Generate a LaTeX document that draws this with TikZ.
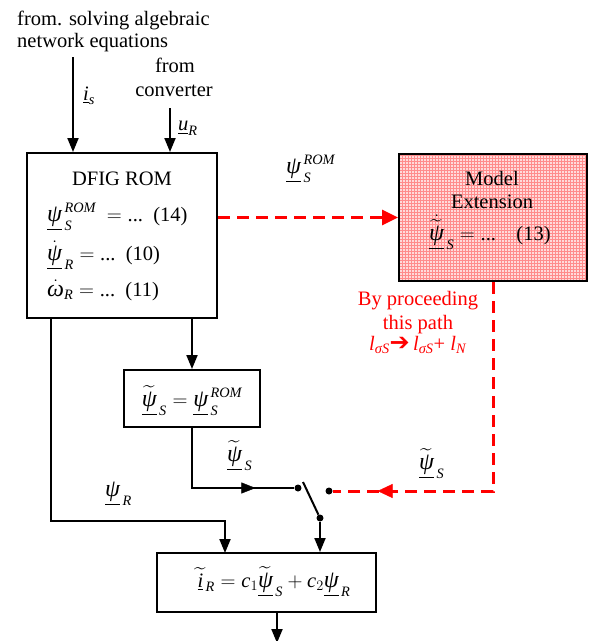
\documentclass[tikz,border=0pt]{standalone}
\usepackage{amsmath}
\usepackage{fontspec}
\setmainfont{Liberation Serif}
\newfontfamily\dejavu{DejaVu Sans}
\usetikzlibrary{arrows.meta,patterns,decorations.markings}
\newcommand{\ti}[1]{\text{\itshape #1}}
\newcommand{\gk}[1]{\text{\fontsize{24}{24}\selectfont\itshape #1}}
\newcommand{\upsi}{\underline{\gk{ψ}}}
\newcommand{\tpsi}{\widetilde{\underline{\gk{ψ}}}}
\newcommand{\lsub}[1]{\textit{l}\textsubscript{\textit{#1}}}
\newcommand{\etc}{\text{...}}
\begin{document}
\begin{tikzpicture}[x=1pt,y=-1pt,
  every node/.style={font=\fontsize{20.5}{23}\selectfont, inner sep=0pt},
  box/.style={draw, line width=2pt, inner sep=0pt},
  conn/.style={line width=2pt, -{Triangle[width=11pt,length=14pt]}},
  blk/.style={line width=2pt},
  reddash/.style={draw=red, line width=3pt, dash pattern=on 12pt off 7pt},
  redarr/.style={reddash, -{Triangle[width=15pt,length=16pt]}},
  dot/.style={circle, fill=black, inner sep=0pt, minimum size=7pt},
  redtxt/.style={text=red}]
\useasboundingbox (0,0) rectangle (594,641);

% boxes
\node[box, minimum width=190pt, minimum height=165pt] (rom) at (122,235.5) {};
\node[box, minimum width=188pt, minimum height=127pt,
      preaction={fill=red!14}, pattern=grid, pattern color=red!45] (ext) at (493,217.5) {};
\node[box, minimum width=136pt, minimum height=57pt] (b2) at (192,398.5) {};
\node[box, minimum width=219pt, minimum height=59pt] (b3) at (266.5,582.5) {};

% box contents
\node[anchor=base] (romT) at (122,185) {DFIG ROM};
\node[anchor=base west] (romE1) at (47,221) {$\upsi^{\,\ti{ROM}}_{\,\ti{S}}\ = \etc$\ \ (14)};
\node[anchor=base west] (romE2) at (47,260) {$\dot{\upsi}_{\,\ti{R}} = \etc$\ \ (10)};
\node[anchor=base west] (romE3) at (47,296) {$\dot{\gk{ω}}_{\ti{R}} = \etc$\ \ (11)};

\node[anchor=base] (extT1) at (492,185) {Model};
\node[anchor=base] (extT2) at (492,208) {Extension};
\node[anchor=base west] (extE) at (429,240) {$\dot{\tpsi}_{\,\ti{S}} = \etc$\ \ \ \ (13)};

\node[anchor=base] (b2E) at (192,406) {$\tpsi_{\,\ti{S}} = \upsi^{\,\ti{ROM}}_{\,\ti{S}}$};
\node[anchor=base] (b3E) at (274,587) {$\widetilde{\underline{\ti{i}}}_{\,\ti{R}} = \ti{c}_{1}\tpsi_{\,\ti{S}} + \ti{c}_{2}\upsi_{\,\ti{R}}$};

% outside texts
\node[anchor=base west] (fromA) at (17,25) {from. solving algebraic};
\node[anchor=base west] (fromB) at (17,47) {network equations};
\node[anchor=base] (convA) at (175,72) {from};
\node[anchor=base] (convB) at (174,96) {converter};
\node[anchor=base west] (lblIs) at (83,100) {$\underline{\ti{i}}_{\ti{s}}$};
\node[anchor=base west] (lblUr) at (178,130) {$\underline{\ti{u}}_{\ti{R}}$};
\node[anchor=base west] (lblPsiRom) at (286,173) {$\upsi^{\,\ti{ROM}}_{\,\ti{S}}$};
\node[anchor=base west] (lblPsiT1) at (227,461) {$\tpsi_{\,\ti{S}}$};
\node[anchor=base west] (lblPsiT2) at (419,469) {$\tpsi_{\,\ti{S}}$};
\node[anchor=base west] (lblPsiR) at (105,496) {$\upsi_{\,\ti{R}}$};

\node[anchor=base, redtxt] (redA) at (418,305) {By proceeding};
\node[anchor=base, redtxt] (redB) at (418,329) {this path};
\node[anchor=base, redtxt] (redC) at (418,350) {\lsub{σS}{\dejavu\fontsize{24}{24}\selectfont ➔}\,\lsub{σS}+ \lsub{N}};

% switch
\node[dot] (swL) at (298,488) {};
\node[dot] (swB) at (320,518) {};
\node[dot] (swR) at (329,491) {};
\coordinate (bladeTop) at (303,482);

% coordinates
\coordinate (isTop) at (73,57);
\coordinate (urTop) at (170,108);
\coordinate (leftX) at (51,521);
\coordinate (b3in) at (225,553);
\coordinate (outEnd) at (277,643);

% connectors
\draw[conn] (isTop) -- (isTop |- rom.north);
\draw[conn] (urTop) -- (urTop |- rom.north);
\draw[redarr] (rom.east |- ext.west) -- (ext.west);
\draw[conn] (b2.north |- rom.south) -- (b2.north);
\draw[conn] (rom.south -| leftX) -- (leftX) -| (b3in);
\draw[blk] (b2.south) -- (b2.south |- swL) -- (swL);
\path[decoration={markings, mark=at position 0.62 with {\arrow{Triangle[width=11pt,length=14pt]}}}, postaction={decorate}]
  (b2.south |- swL) -- (swL);
\draw[blk] (bladeTop) -- (swB);
\draw[conn] (swB) -- (swB |- b3.north);
\draw[conn] (outEnd |- b3.south) -- (outEnd);
\draw[reddash] (ext.south) -- (ext.south |- swR) -- (swR.east);
\path[red, decoration={markings, mark=at position 0.72 with {\arrow{Triangle[width=14pt,length=15pt]}}}, postaction={decorate}]
  (ext.south |- swR) -- (swR.east);
\end{tikzpicture}
\end{document}
